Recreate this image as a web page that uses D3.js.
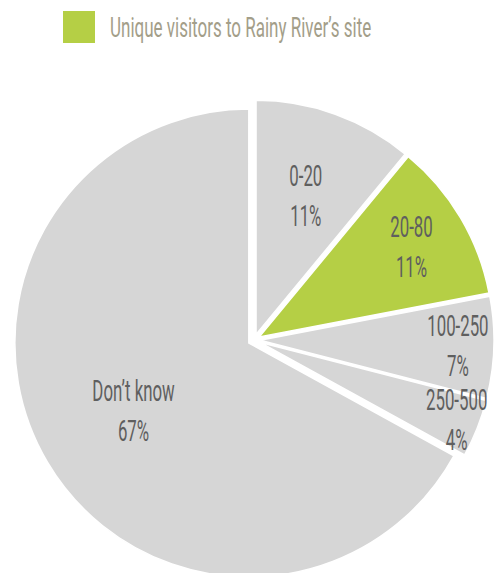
<!DOCTYPE html>
<html>
<head>
<meta charset="utf-8">
<script src="https://cdn.jsdelivr.net/npm/d3@7"></script>
<style>
  html, body { margin: 0; padding: 0; background: #ffffff; overflow: hidden; }
  svg { display: block; }
</style>
</head>
<body>
<svg id="chart" width="498" height="573"></svg>
<script>
// Survey answers: unique visitors to Rainy River's site
const categories = ["0-20", "20-80", "100-250", "250-500", "Don\u2019t know"];
const shares = [11, 11, 7, 4, 67];
const highlighted = ["20-80"];
const legendLabel = "Unique visitors to Rainy River\u2019s site";

// Layout
const W = 498, H = 573;
const cx = 254, cy = 340, R = 234;
const explode = 6;
const labelRadius = [153, 183, 204, 218, 140];
const condense = 0.58;
const legendCondense = 0.63;

const grey = "#d6d6d6";
const green = "#b5cf45";
const labelColor = "#5f5f5f";
const legendColor = "#a39e89";
const fontFamily = "Roboto, 'Open Sans', sans-serif";

const svg = d3.select("#chart");

const color = d3.scaleOrdinal()
  .domain(categories)
  .range(categories.map(c => highlighted.includes(c) ? green : grey));

const pie = d3.pie().sort(null).value(d => d.value);
const arcs = pie(categories.map((c, i) => ({ name: c, value: shares[i] })));
const arc = d3.arc().innerRadius(0).outerRadius(R);

const g = svg.append("g").attr("transform", `translate(${cx},${cy})`);

const mid = d => (d.startAngle + d.endAngle) / 2;

g.selectAll("path.slice")
  .data(arcs)
  .join("path")
  .attr("class", "slice")
  .attr("d", arc)
  .attr("fill", d => color(d.data.name))
  .attr("stroke", "#ffffff")
  .attr("stroke-width", 1.5)
  .attr("transform", d => {
    const a = mid(d);
    return `translate(${explode * Math.sin(a)},${-explode * Math.cos(a)})`;
  });

// Two-line slice labels: name above, share below
const labels = g.selectAll("g.label")
  .data(arcs)
  .join("g")
  .attr("class", "label")
  .attr("transform", (d, i) => {
    const a = mid(d);
    return `translate(${labelRadius[i] * Math.sin(a)},${-labelRadius[i] * Math.cos(a)})`;
  });

labels.append("text")
  .attr("transform", `translate(0,-10) scale(${condense},1)`)
  .attr("text-anchor", "middle")
  .attr("font-family", fontFamily)
  .attr("font-size", 29)
  .attr("fill", labelColor)
  .text(d => d.data.name);

labels.append("text")
  .attr("transform", `translate(0,30) scale(${condense},1)`)
  .attr("text-anchor", "middle")
  .attr("font-family", fontFamily)
  .attr("font-size", 29)
  .attr("fill", labelColor)
  .text(d => d.data.value + "%");

// Legend
const legend = svg.append("g").attr("transform", "translate(63,11)");
legend.append("rect")
  .attr("width", 32)
  .attr("height", 32)
  .attr("fill", green);
legend.append("text")
  .attr("transform", `translate(47,26) scale(${legendCondense},1)`)
  .attr("font-family", fontFamily)
  .attr("font-size", 27)
  .attr("fill", legendColor)
  .text(legendLabel);
</script>
</body>
</html>
